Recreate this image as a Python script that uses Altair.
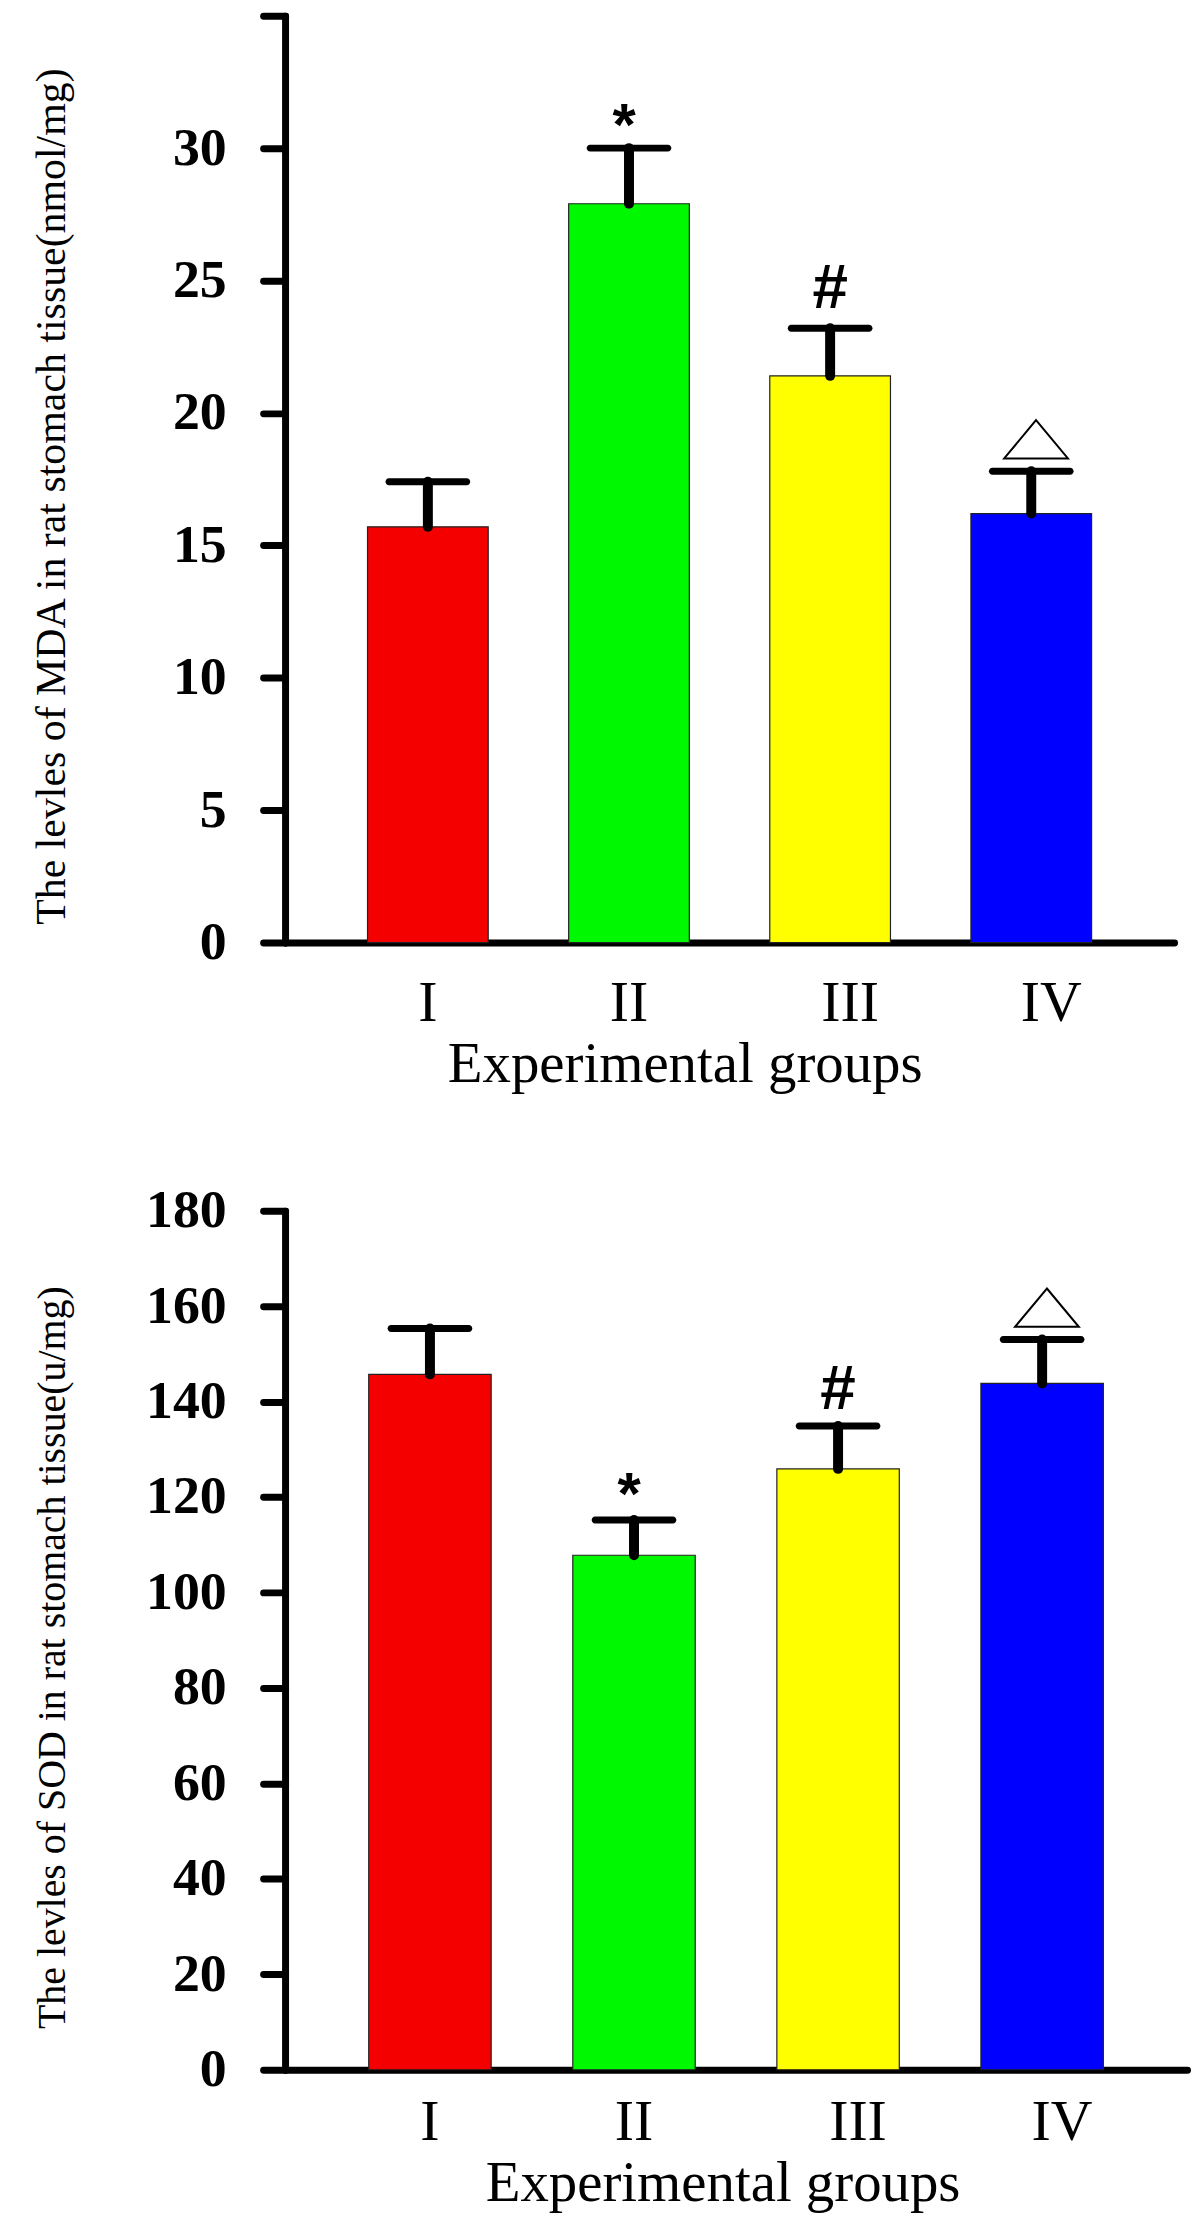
import altair as alt
import pandas as pd

groups = ["I", "II", "III", "IV"]
colors = ["#F40000", "#00F800", "#FFFF00", "#0000FF"]
marks = ["", "*", "#", "tri"]

mda_mean = [15.7, 27.9, 21.4, 16.2]
mda_err = [1.7, 2.1, 1.8, 1.6]

sod_mean = [145.7, 107.8, 125.9, 143.8]
sod_err = [9.6, 7.4, 9.0, 9.2]

SERIF = "Liberation Serif"
SANS = "Liberation Sans"
TRI = "M0.15,-1.6L1.15,-0.4L-0.85,-0.4Z"


def panel(means, errs, ymax, step, ytitle, width, height, xtitle_x, xtitle_y,
          label_pad, ytitle_y, ytitle_size, star_dy, hash_dy, hide_top):
    df = pd.DataFrame({
        "group": groups,
        "mean": means,
        "upper": [m + e for m, e in zip(means, errs)],
        "mark": marks,
    })
    base = alt.Chart(df)
    x = alt.X(
        "group:N", sort=groups,
        scale=alt.Scale(paddingInner=0.4, paddingOuter=0.41),
        axis=alt.Axis(
            title="Experimental groups", titleFont=SERIF, titleFontSize=57,
            titleFontWeight="normal", titleColor="black", titleX=xtitle_x,
            titleY=xtitle_y, titleBaseline="alphabetic", titleAlign="center",
            labelFont=SERIF, labelFontSize=58, labelFontWeight="normal",
            labelColor="black", labelAngle=0, labelBaseline="alphabetic",
            labelPadding=label_pad, ticks=False, tickSize=0,
            labelOffset={"condition": {"test": "datum.value == 'III' || datum.value == 'IV'", "value": 20}, "value": 0},
            domainColor="black", domainWidth=7, domainCap="round", grid=False,
        ),
    )
    label_expr = f"datum.value == {ymax} ? '' : datum.label" if hide_top else "datum.label"
    y_axis = alt.Axis(
        title=ytitle, titleFont=SERIF, titleFontSize=ytitle_size, titleFontWeight="normal",
        titleColor="black", titleX=-221, titleY=ytitle_y, titleBaseline="alphabetic",
        titleAlign="center", titleAngle=270,
        values=list(range(0, ymax + 1, step)), labelExpr=label_expr,
        labelFont=SERIF, labelFontSize=54, labelFontWeight="bold", labelColor="black",
        labelPadding=37, tickSize=22, tickWidth=7, tickColor="black", tickCap="round",
        domainColor="black", domainWidth=7, domainCap="round", grid=False,
    )
    yscale = alt.Scale(domain=[0, ymax], nice=False, zero=True)

    bars = base.mark_bar(stroke="#222222", strokeWidth=1.2).encode(
        x=x,
        y=alt.Y("mean:Q", scale=yscale, axis=y_axis),
        color=alt.Color("group:N", scale=alt.Scale(domain=groups, range=colors), legend=None),
    )
    stem = base.mark_rule(strokeWidth=10, strokeCap="round", color="black").encode(
        x=alt.X("group:N", sort=groups), y="mean:Q", y2="upper:Q"
    )
    cap = base.mark_tick(size=85, thickness=7, cornerRadius=3.5, color="black", opacity=1).encode(
        x=alt.X("group:N", sort=groups), y="upper:Q"
    )
    star = base.transform_filter("datum.mark == '*'").mark_text(
        font=SANS, fontSize=60, fontWeight="bold", color="black",
        baseline="alphabetic", dy=star_dy, dx=-5,
    ).encode(x=alt.X("group:N", sort=groups), y="upper:Q", text="mark:N")
    hsh = base.transform_filter("datum.mark == '#'").mark_text(
        font=SANS, fontSize=64, fontWeight="bold", color="black",
        baseline="alphabetic", dy=hash_dy,
    ).encode(x=alt.X("group:N", sort=groups), y="upper:Q", text="mark:N")
    tri = base.transform_filter("datum.mark == 'tri'").mark_point(
        shape=TRI, size=4096, filled=False, stroke="black", strokeWidth=2, opacity=1,
    ).encode(x=alt.X("group:N", sort=groups), y="upper:Q")

    return alt.layer(bars, stem, cap, star, hsh, tri).properties(width=width, height=height)


top = panel(mda_mean, mda_err, 35, 5,
            "The levles of MDA in rat stomach tissue(nmol/mg)",
            892, 930, 401, 139, 78, 482, 42, -3, -20, True)
bottom = panel(sod_mean, sod_err, 180, 20,
               "The levles of SOD in rat stomach tissue(u/mg)",
               905, 862, 439, 131, 70, 448, 40, -6, -17, False)

chart = alt.vconcat(top, bottom, spacing=92).properties(
    padding={"left": 22, "top": 0, "right": 5, "bottom": 5},
    background="white",
).configure_view(stroke=None)

chart.save("out.html", embed_options={"renderer": "svg", "actions": False})
